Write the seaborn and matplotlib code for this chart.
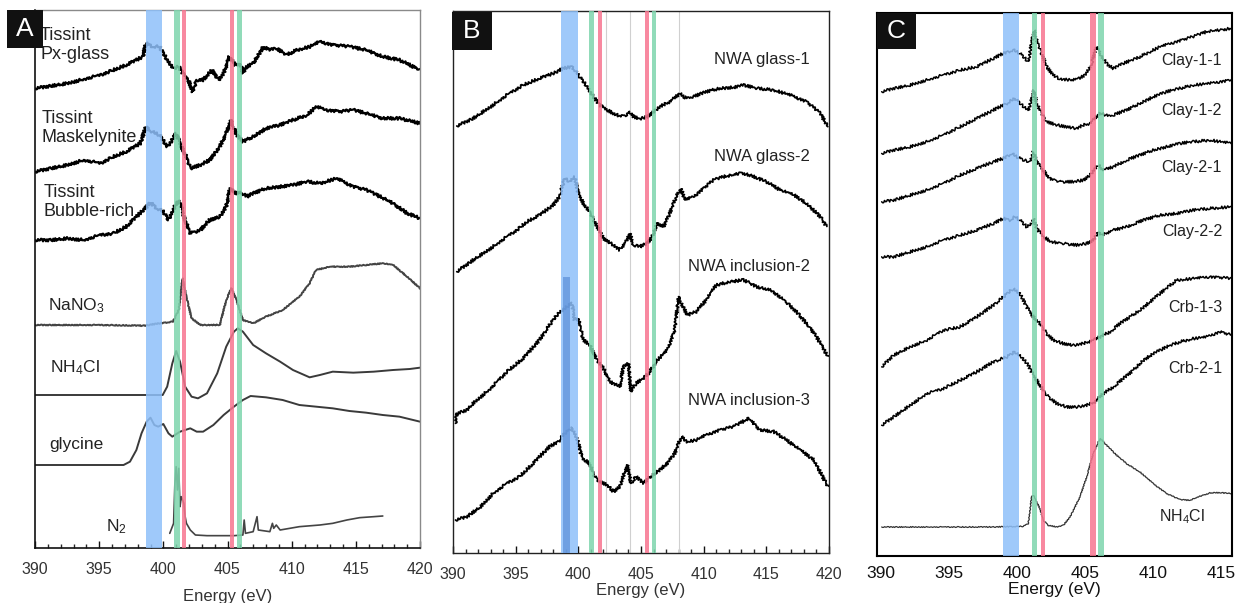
import matplotlib
matplotlib.use("Agg")
import matplotlib.pyplot as plt
from matplotlib.patches import Rectangle
from matplotlib.ticker import MultipleLocator
import seaborn as sns

# ---------- Panel A: Tissint spectra + references (energy eV, stacked intensity a.u.) ----------

px_glass_e = [390, 392.5, 395.1, 397.1, 398.4, 398.65, 399.2, 399.7, 400.3, 400.8, 401.2, 401.6, 401.95,
              402.3, 402.6, 403.1, 403.8, 404.3, 404.7, 405.15, 405.6, 406.0, 406.2, 406.5, 407.0, 407.8,
              408.3, 408.8, 409.6, 410.4, 411.4, 412.2, 413.2, 414.5, 415.8, 417.1, 418.4, 420]
px_glass_i = [1379, 1394, 1419, 1449, 1474, 1514, 1504, 1504, 1464, 1439, 1444, 1419, 1404, 1369, 1404,
              1404, 1434, 1404, 1424, 1474, 1449, 1454, 1424, 1444, 1454, 1504, 1494, 1499, 1479, 1494,
              1504, 1519, 1509, 1504, 1494, 1474, 1464, 1434]

mask_e = [390, 391.2, 392.5, 393.8, 395.1, 396.1, 397.1, 398.2, 398.65, 399.1, 399.7, 400.3, 400.6, 401.0,
          401.4, 401.8, 402.1, 402.9, 403.6, 404.4, 404.9, 405.3, 405.7, 406.2, 407.0, 408.0, 409.1, 410.1,
          411.2, 411.9, 412.7, 413.8, 414.8, 415.8, 417.1, 418.4, 420]
mask_i = [1129, 1139, 1149, 1164, 1154, 1174, 1189, 1214, 1264, 1249, 1239, 1204, 1219, 1244, 1204, 1174,
          1139, 1149, 1164, 1204, 1244, 1284, 1239, 1219, 1234, 1259, 1269, 1284, 1299, 1324, 1314, 1309,
          1314, 1304, 1289, 1289, 1274]

bubble_e = [390, 391.2, 392.5, 393.8, 395.1, 396.1, 397.1, 397.9, 398.7, 399.0, 399.5, 400.0, 400.4, 401.0,
            401.3, 401.6, 402.1, 402.9, 403.6, 404.4, 404.9, 405.2, 405.6, 406.0, 406.5, 407.0, 408.0, 409.1,
            410.1, 411.2, 412.2, 413.5, 414.8, 415.8, 416.9, 417.9, 419.0, 420]
bubble_i = [924, 924, 929, 924, 939, 944, 964, 994, 1024, 1036, 1019, 1009, 984, 1034, 1039, 994, 944, 954,
            984, 994, 1024, 1079, 1064, 1069, 1054, 1064, 1079, 1084, 1089, 1099, 1094, 1109, 1084, 1074,
            1054, 1034, 1004, 989]

nano3_e = [390, 395, 398.5, 399.7, 400.75, 401.2, 401.5, 401.8, 402.2, 402.9, 404.4, 404.9, 405.3, 405.7,
           406.2, 407.0, 408.0, 409.3, 410.6, 411.4, 411.9, 413.0, 414.5, 415.8, 417.1, 417.9, 419.0, 420]
nano3_i = [669, 669, 667, 674, 679, 714, 809, 754, 689, 669, 669, 744, 779, 744, 684, 674, 694, 714, 754,
           794, 834, 844, 844, 849, 854, 849, 814, 779]

nh4cl_a_e = [390, 399.95, 400.3, 400.7, 401.0, 401.3, 401.7, 402.2, 402.7, 403.4, 404.2, 404.9, 405.5, 405.8,
             406.2, 407.0, 408.0, 409.1, 410.1, 411.4, 412.2, 413.2, 414.8, 416.4, 417.9, 419.2, 420]
nh4cl_a_i = [459, 459, 484, 554, 591, 559, 484, 454, 449, 464, 524, 604, 649, 659, 649, 609, 584, 559, 534,
             512, 519, 529, 526, 529, 534, 537, 541]

glycine_e = [390, 396.9, 397.4, 397.9, 398.3, 398.7, 399.0, 399.3, 399.6, 400.0, 400.4, 400.7, 401.3, 402.1,
             402.6, 403.1, 403.9, 404.7, 405.5, 406.2, 406.8, 408.0, 409.3, 410.6, 411.9, 413.2, 414.5, 415.8,
             417.1, 418.4, 420]
glycine_i = [249, 249, 259, 294, 344, 379, 391, 369, 364, 372, 344, 334, 349, 359, 349, 349, 369, 399, 424,
             444, 456, 452, 444, 429, 424, 419, 411, 406, 399, 394, 379]

n2_e = [400.5, 400.8, 400.9, 401.0, 401.1, 401.2, 401.3, 401.4, 401.6, 401.7, 401.8, 402.1, 402.5, 403.4,
        405.5, 406.2, 406.3, 406.4, 407.0, 407.3, 407.4, 408.3, 408.5, 408.6, 408.8, 409.1, 410.6, 412.2,
        413.2, 414.3, 415.3, 416.4, 417.1]
n2_i = [44, 74, 194, 244, 174, 239, 124, 154, 134, 94, 74, 54, 39, 37, 37, 39, 84, 44, 49, 94, 54, 49, 74,
        59, 69, 54, 64, 69, 74, 84, 91, 94, 96]

# ---------- Panel B: NWA spectra ----------

glass1_e = [390.3, 391.6, 393.0, 394.3, 395.6, 396.9, 398.0, 398.8, 399.5, 400.1, 400.7, 401.2, 401.7, 402.3,
            402.8, 403.3, 403.9, 404.1, 404.4, 404.9, 405.5, 406.0, 406.5, 407.3, 407.8, 408.1, 408.4, 409.2,
            410.2, 411.3, 412.4, 413.2, 414.2, 415.6, 416.9, 418.2, 419.3, 419.9]
glass1_i = [1281, 1304, 1339, 1374, 1404, 1424, 1439, 1454, 1459, 1429, 1399, 1369, 1344, 1329, 1319, 1311,
            1314, 1324, 1309, 1302, 1309, 1324, 1339, 1354, 1369, 1379, 1367, 1369, 1384, 1394, 1397, 1404,
            1394, 1389, 1374, 1354, 1319, 1279]

glass2_e = [390.3, 391.6, 393.0, 394.3, 395.1, 395.9, 396.9, 398.0, 398.5, 398.9, 399.3, 399.7, 400.0, 400.4,
            400.9, 401.5, 402.0, 402.8, 403.3, 403.9, 404.1, 404.4, 404.9, 405.5, 405.9, 406.3, 406.8, 407.3,
            407.8, 408.2, 408.5, 409.2, 410.0, 410.8, 411.6, 412.4, 413.0, 414.0, 415.0, 416.1, 417.2, 418.2,
            419.3, 419.8]
glass2_i = [844, 879, 914, 949, 969, 994, 1014, 1044, 1069, 1124, 1114, 1129, 1079, 1049, 1024, 979, 944, 924,
            909, 939, 959, 924, 919, 929, 949, 989, 979, 1019, 1069, 1094, 1059, 1069, 1094, 1119, 1129, 1134,
            1141, 1129, 1114, 1089, 1074, 1049, 1009, 979]

incl2_e = [390.2, 390.3, 391.1, 391.6, 393.0, 394.3, 395.6, 396.9, 397.7, 398.4, 398.9, 399.5, 399.7, 400.0,
           400.4, 400.9, 401.5, 402.0, 402.5, 403.3, 403.6, 404.0, 404.2, 404.6, 405.2, 405.6, 406.3, 407.1,
           407.7, 408.0, 408.2, 408.7, 409.4, 410.2, 411.0, 412.1, 413.2, 414.2, 415.3, 416.4, 417.4, 418.2,
           419.0, 419.9]
incl2_i = [389, 419, 429, 449, 494, 544, 584, 639, 684, 719, 734, 749, 699, 704, 639, 624, 579, 554, 514, 499,
           559, 569, 484, 509, 524, 539, 579, 609, 669, 769, 749, 714, 724, 759, 804, 814, 819, 799, 789, 759,
           724, 689, 649, 589]

incl3_e = [390.2, 391.1, 392.2, 393.2, 394.3, 395.3, 396.4, 396.9, 397.7, 398.4, 398.9, 399.5, 399.9, 400.3,
           400.9, 401.3, 401.7, 402.3, 402.8, 403.3, 403.9, 404.2, 404.6, 405.2, 405.6, 406.3, 407.1, 407.7,
           408.2, 408.7, 409.4, 410.2, 411.3, 412.4, 413.6, 414.5, 415.6, 416.6, 417.7, 418.8, 419.9]
incl3_i = [99, 109, 139, 179, 209, 229, 269, 289, 319, 334, 359, 374, 344, 284, 269, 229, 214, 204, 184, 199,
           264, 209, 229, 209, 224, 244, 269, 299, 349, 334, 339, 354, 369, 379, 404, 369, 364, 339, 309, 279,
           199]

# ---------- Panel C: clay / carbonate spectra ----------

clay11_e = [390.07, 390.93, 392.15, 393.37, 394.59, 395.82, 397.04, 398.26, 399.00, 399.72, 400.21, 400.82,
            401.07, 401.24, 401.44, 401.80, 402.17, 402.66, 403.15, 403.88, 404.61, 405.10, 405.47, 405.83,
            406.20, 406.69, 407.06, 407.79, 408.77, 409.74, 410.48, 411.70, 412.92, 413.90, 414.88, 415.73]
clay11_i = [1392, 1402, 1412, 1427, 1442, 1457, 1467, 1492, 1507, 1517, 1507, 1482, 1537, 1577, 1547, 1507,
            1467, 1442, 1430, 1427, 1432, 1447, 1477, 1527, 1497, 1472, 1462, 1477, 1492, 1512, 1527, 1542,
            1557, 1572, 1577, 1582]

clay12_e = [390.07, 390.93, 392.15, 393.37, 394.59, 395.82, 397.04, 398.26, 399.24, 399.85, 400.34, 400.82,
            401.14, 401.24, 401.44, 401.80, 402.17, 402.90, 403.64, 404.37, 404.86, 405.35, 405.71, 406.08,
            406.57, 407.06, 408.03, 409.01, 409.99, 410.97, 411.94, 412.92, 414.14, 415.73]
clay12_i = [1207, 1217, 1227, 1242, 1262, 1287, 1312, 1337, 1357, 1372, 1352, 1337, 1377, 1397, 1357, 1327,
            1302, 1292, 1287, 1282, 1292, 1297, 1312, 1327, 1322, 1322, 1337, 1357, 1377, 1392, 1402, 1412,
            1417, 1427]

clay21_e = [390.07, 390.93, 392.15, 393.37, 394.59, 395.82, 397.04, 398.26, 399.00, 399.60, 399.97, 400.46,
            400.95, 401.19, 401.44, 401.80, 402.41, 403.15, 404.12, 404.86, 405.35, 405.71, 405.96, 406.32,
            407.06, 408.03, 409.01, 409.99, 410.97, 411.94, 412.92, 414.14, 415.73]
clay21_i = [1062, 1067, 1082, 1097, 1117, 1142, 1162, 1182, 1192, 1207, 1197, 1187, 1182, 1212, 1182, 1162,
            1132, 1122, 1122, 1127, 1142, 1162, 1172, 1157, 1167, 1187, 1202, 1217, 1227, 1237, 1242, 1247,
            1237]

clay22_e = [390.07, 390.93, 392.15, 393.37, 394.59, 395.82, 397.04, 398.26, 399.00, 399.48, 399.85, 400.21,
            400.70, 401.07, 401.19, 401.44, 401.92, 402.54, 403.39, 404.37, 405.10, 405.59, 405.96, 406.20,
            407.06, 408.03, 409.26, 410.48, 411.70, 412.92, 414.14, 415.73]
clay22_i = [897, 897, 912, 927, 947, 962, 977, 997, 1012, 1007, 1017, 1007, 987, 997, 1012, 982, 957, 942,
            937, 932, 937, 947, 972, 962, 977, 987, 1007, 1022, 1027, 1037, 1042, 1047]

crb13_e = [390.07, 390.93, 392.15, 393.37, 394.59, 395.82, 397.04, 398.26, 399.00, 399.72, 400.21, 400.70,
           401.19, 401.68, 402.17, 402.66, 403.39, 404.12, 404.86, 405.59, 406.08, 406.81, 407.55, 408.28,
           409.01, 409.74, 410.48, 411.70, 412.92, 414.14, 415.73]
crb13_i = [567, 602, 627, 647, 677, 687, 717, 752, 777, 802, 787, 747, 717, 697, 667, 647, 637, 632, 637, 647,
           657, 672, 697, 717, 737, 762, 787, 827, 832, 837, 832]

crb21_e = [390.07, 390.93, 392.15, 393.37, 394.59, 395.82, 397.04, 398.26, 399.24, 399.85, 400.34, 400.82,
           401.19, 401.68, 402.17, 402.90, 403.64, 404.37, 405.10, 405.71, 406.32, 407.06, 407.79, 408.52,
           409.26, 409.99, 410.97, 411.94, 412.92, 413.90, 414.88, 415.73]
crb21_i = [392, 417, 452, 487, 502, 527, 552, 582, 597, 612, 597, 572, 542, 512, 482, 457, 447, 447, 452, 462,
           487, 507, 532, 557, 587, 607, 627, 642, 652, 657, 672, 662]

nh4cl_c_e = [390.07, 393.37, 398.26, 400.46, 400.82, 401.07, 401.19, 401.44, 401.68, 401.92, 402.29, 402.90,
             403.39, 403.88, 404.61, 405.10, 405.59, 405.96, 406.13, 406.57, 407.30, 408.03, 409.01, 409.99,
             410.97, 411.94, 412.68, 413.41, 414.14, 414.88, 415.73]
nh4cl_c_i = [87, 87, 87, 89, 97, 177, 182, 162, 142, 107, 92, 87, 92, 117, 177, 237, 307, 342, 352, 332, 302,
             277, 252, 217, 187, 169, 167, 179, 189, 190, 187]

# ---------- Highlighted energy windows (eV) ----------

a_bands = [(398.65, 399.90, "blue"), (400.83, 401.30, "green"), (401.43, 401.74, "pink"),
           (405.19, 405.51, "pink"), (405.74, 406.15, "green")]
b_bands = [(398.62, 399.95, "blue"), (400.85, 401.28, "green"), (401.57, 401.89, "pink"),
           (405.29, 405.61, "pink"), (405.88, 406.20, "green")]
b_guides = [402.2, 404.1, 408.0]
c_bands = [(399.00, 400.12, "blue"), (401.09, 401.48, "green"), (401.75, 402.05, "pink"),
           (405.35, 405.76, "pink"), (405.93, 406.35, "green")]

band_colors = {"blue": "#8ec0fa", "green": "#7ed5ad", "pink": "#f7758f"}

# ---------- Style ----------

sns.set_style("white")
plt.rcParams["font.family"] = ["Liberation Sans", "DejaVu Sans"]
plt.rcParams["text.color"] = "#222222"
plt.rcParams["mathtext.fontset"] = "custom"
plt.rcParams["mathtext.rm"] = "Liberation Sans"
plt.rcParams["mathtext.it"] = "Liberation Sans:italic"

fig = plt.figure(figsize=(12.43, 6.03), dpi=100)
W, H = 1243, 603


def add_panel(left, top, right, bottom):
    return fig.add_axes([left / W, 1 - bottom / H, (right - left) / W, (bottom - top) / H])


def spectrum(ax, e, i, color="black", lw=1.4, wiggle=None):
    sns.lineplot(x=e, y=i, ax=ax, color=color, linewidth=lw, estimator=None, zorder=2)
    if wiggle is not None:
        ax.lines[-1].set_sketch_params(*wiggle)


def shade(ax, bands):
    for lo, hi, c in bands:
        ax.axvspan(lo, hi, color=band_colors[c], alpha=0.85, lw=0, zorder=3)


def panel_tag(x0, y0, x1, y1, letter):
    fig.add_artist(Rectangle((x0 / W, 1 - y1 / H), (x1 - x0) / W, (y1 - y0) / H,
                             transform=fig.transFigure, facecolor="#111111", edgecolor="none", zorder=10))
    fig.text((x0 + x1) / 2 / W, 1 - (y0 + y1) / 2 / H, letter, color="white", fontsize=19,
             ha="center", va="center", zorder=11)


noisy = (1.4, 3.0, 2.0)
fine = (0.5, 3.0, 2.0)

# ---------- Panel A ----------

axA = add_panel(35, 10, 420, 548)
spectrum(axA, px_glass_e, px_glass_i, lw=1.6, wiggle=noisy)
spectrum(axA, mask_e, mask_i, lw=1.6, wiggle=noisy)
spectrum(axA, bubble_e, bubble_i, lw=1.6, wiggle=noisy)
spectrum(axA, nano3_e, nano3_i, color="#444444", lw=1.4, wiggle=fine)
spectrum(axA, nh4cl_a_e, nh4cl_a_i, color="#3a3a3a", lw=1.4)
spectrum(axA, glycine_e, glycine_i, color="#3a3a3a", lw=1.4)
spectrum(axA, n2_e, n2_i, color="#444444", lw=1.2)
shade(axA, a_bands)
axA.set_xlim(390, 420)
axA.set_ylim(0, 1614)

a_labels = [("Tissint\nPx-glass", 0.013, 0.968), ("Tissint\nMaskelynite", 0.016, 0.814),
            ("Tissint\nBubble-rich", 0.023, 0.677)]
for txt, fx, fy in a_labels:
    axA.text(fx, fy, txt, transform=axA.transAxes, fontsize=13, va="top", ha="left", linespacing=1.15,
             zorder=5)
axA.text(0.034, 0.45, "NaNO$_3$", transform=axA.transAxes, fontsize=12.5, va="center")
axA.text(0.039, 0.335, "NH$_4$Cl", transform=axA.transAxes, fontsize=12.5, va="center")
axA.text(0.036, 0.193, "glycine", transform=axA.transAxes, fontsize=12.5, va="center")
axA.text(0.184, 0.04, "N$_2$", transform=axA.transAxes, fontsize=12.5, va="center")

# ---------- Panel B ----------

axB = add_panel(453, 11, 829, 553)
for g in b_guides:
    axB.axvline(g, color="#d0d0d0", lw=0.8, zorder=1)
spectrum(axB, glass1_e, glass1_i, lw=1.3, wiggle=noisy)
spectrum(axB, glass2_e, glass2_i, lw=1.3, wiggle=noisy)
spectrum(axB, incl2_e, incl2_i, lw=1.3, wiggle=noisy)
spectrum(axB, incl3_e, incl3_i, lw=1.3, wiggle=noisy)
shade(axB, b_bands)
axB.axvspan(398.8, 399.35, ymin=0, ymax=0.51, color="#5b8fd8", alpha=0.7, lw=0, zorder=4)
axB.set_xlim(390, 420)
axB.set_ylim(0, 1626)
for txt, fy in [("NWA glass-1", 0.910), ("NWA glass-2", 0.731), ("NWA inclusion-2", 0.528),
                ("NWA inclusion-3", 0.282)]:
    axB.text(0.95, fy, txt, transform=axB.transAxes, fontsize=12, ha="right", va="center",
             zorder=5, bbox=dict(facecolor="white", edgecolor="none", pad=1.0))

# ---------- Panel C ----------

axC = add_panel(877, 13, 1232, 556)
spectrum(axC, clay11_e, clay11_i, lw=1.1, wiggle=noisy)
spectrum(axC, clay12_e, clay12_i, lw=1.1, wiggle=noisy)
spectrum(axC, clay21_e, clay21_i, lw=1.1, wiggle=noisy)
spectrum(axC, clay22_e, clay22_i, lw=1.1, wiggle=noisy)
spectrum(axC, crb13_e, crb13_i, lw=1.1, wiggle=noisy)
spectrum(axC, crb21_e, crb21_i, lw=1.1, wiggle=noisy)
spectrum(axC, nh4cl_c_e, nh4cl_c_i, color="#333333", lw=0.9, wiggle=fine)
shade(axC, c_bands)
axC.set_xlim(389.73, 415.76)
axC.set_ylim(0, 1628)
for txt, fy in [("Clay-1-1", 0.913), ("Clay-1-2", 0.821), ("Clay-2-1", 0.715), ("Clay-2-2", 0.597),
                ("Crb-1-3", 0.457), ("Crb-2-1", 0.346)]:
    axC.text(0.972, fy, txt, transform=axC.transAxes, fontsize=11.5, ha="right", va="center", zorder=5)
axC.text(0.924, 0.072, "NH$_4$Cl", transform=axC.transAxes, fontsize=11.5, ha="right", va="center")

# ---------- Axes cosmetics ----------

for ax in (axA, axB, axC):
    ax.set_yticks([])
    ax.set_ylabel("")
    ax.xaxis.set_major_locator(MultipleLocator(5))

for ax, pad in ((axA, 9), (axB, 1)):
    ax.set_xlabel("Energy (eV)", fontsize=12, color="#333333", labelpad=pad)
    ax.xaxis.set_minor_locator(MultipleLocator(1))
    ax.tick_params(axis="x", which="major", direction="in", length=5, width=1, pad=10,
                   labelsize=11.5, colors="#111111", labelcolor="#333333", bottom=True)
    ax.tick_params(axis="x", which="minor", direction="in", length=3, width=1, bottom=True)

for side in ("left", "bottom"):
    axA.spines[side].set_color("#111111")
    axA.spines[side].set_linewidth(1.2)
for side in ("top", "right"):
    axA.spines[side].set_color("#8a8a8a")
    axA.spines[side].set_linewidth(1.0)
for side in axB.spines:
    axB.spines[side].set_color("#222222")
    axB.spines[side].set_linewidth(1.0)
for side in axC.spines:
    axC.spines[side].set_color("#000000")
    axC.spines[side].set_linewidth(1.5)
axC.tick_params(axis="x", which="major", length=0, pad=7, labelsize=12.5, labelcolor="#111111")
axC.set_xlabel("Energy (eV)", fontsize=12.5, color="#111111", labelpad=1)

panel_tag(7, 10, 43, 48, "A")
panel_tag(452, 12, 492, 50, "B")
panel_tag(877, 13, 916, 49, "C")

fig.savefig("out.png", dpi=100)
